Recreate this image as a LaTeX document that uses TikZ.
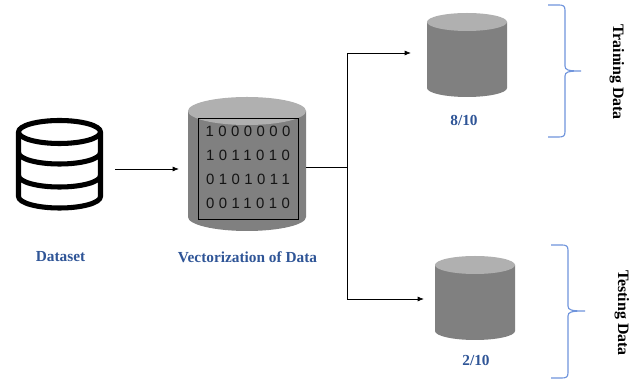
\documentclass[tikz,border=0pt]{standalone}
\usepackage{amsmath}
\usepackage{xcolor}
\usepackage{fontspec}
\setmainfont{Liberation Serif}
\newfontfamily\bitfont[LetterSpace=30]{Liberation Sans}
\usetikzlibrary{arrows.meta}
\definecolor{labelblue}{HTML}{2F5597}
\definecolor{braceblue}{HTML}{6F94DC}
\tikzset{
	iconline/.style={draw=black,line width=3.6pt,line join=round},
	bluelabel/.style={text=labelblue,font=\bfseries\fontsize{10.9}{12}\selectfont},
	sidelabel/.style={rotate=-90,font=\bfseries\fontsize{11.3}{13}\selectfont},
	bits/.style={font=\bitfont\fontsize{10.6}{12}\selectfont,text=black!92},
	link/.style={-{Latex[length=4.5pt,width=3.5pt]},line width=.5pt},
	bracket/.style={draw=braceblue,line width=.8pt}
}
% name, centre x, y of top ellipse, x radius, y radius, y of bottom ellipse
\newcommand{\drum}[6]{
	\fill[black!50] ({#2-#4},#3) -- ({#2-#4},#6) arc[start angle=180,end angle=0,x radius=#4,y radius=#5] -- ({#2+#4},#3) -- cycle;
	\fill[black!31] (#2,#3) ellipse[x radius=#4,y radius=#5];
	\path (#2,{(#3+#6)/2}) node[inner sep=0pt,outer sep=0pt,minimum width={#4*.05cm},minimum height={(#6-#3+2*#5)*.025cm}] (#1) {};
}
\begin{document}
\begin{tikzpicture}[x=.025cm,y=-.025cm]
			\useasboundingbox (0,0) rectangle (639,379);
			
			% dataset icon
			\draw[iconline] (59.5,132) ellipse[x radius=41,y radius=11.5];
			\draw[iconline] (18.5,132) -- (18.5,196.5) arc[start angle=180,end angle=0,x radius=41,y radius=11.5] -- (100.5,132);
			\draw[iconline] (18.5,152.5) arc[start angle=180,end angle=0,x radius=41,y radius=11.5];
			\draw[iconline] (18.5,175.5) arc[start angle=180,end angle=0,x radius=41,y radius=11.5];
			
			% the three drums
			\drum{vector}{247}{111}{59}{14}{217}
			\drum{train}{467}{22}{40}{9}{88}
			\drum{test}{475}{265}{40}{9}{331}
			
			\draw (248,168.5) node[draw=black,line width=.4pt,minimum width=70.9pt,minimum height=71.6pt,inner sep=0pt] (matrix) {};
			\draw (248,131) node[bits] (rowa) {1000000};
			\draw (248,155) node[bits] (rowb) {1011010};
			\draw (248,179) node[bits] (rowc) {0101011};
			\draw (248,203) node[bits] (rowd) {0011010};
			
			\draw (60.5,257) node[bluelabel] (datasetlabel) {Dataset};
			\draw (247.5,257) node[bluelabel] (vectorlabel) {Vectorization of Data};
			\draw (464,120) node[bluelabel] (trainlabel) {8/10};
			\draw (476,360) node[bluelabel] (testlabel) {2/10};
			
			\draw (617,72) node[sidelabel] (trainside) {Training Data};
			\draw (622,313) node[sidelabel] (testside) {Testing Data};
			
			% connectors
			\coordinate (gapa) at (115,169);
			\coordinate (gapb) at (179,169);
			\coordinate (branch) at (347,167);
			\coordinate (traintip) at (411,53);
			\coordinate (testtip) at (424,299);
			\draw[link] (gapa) -- (gapb);
			\draw[line width=.5pt] (vector.east |- branch) -- (branch);
			\draw[link] (branch) |- (traintip);
			\draw[link] (branch) |- (testtip);
			
			% braces
			\draw[bracket] (548,5) -- (559,5) .. controls (563,5) and (565,6) .. (565,10) -- (565,66) .. controls (565,70) and (568,71) .. (581,71) .. controls (568,71) and (565,72) .. (565,76) -- (565,132) .. controls (565,136) and (563,137) .. (559,137) -- (548,137);
			\draw[bracket] (551,245) -- (562,245) .. controls (566,245) and (568,246) .. (568,250) -- (568,306) .. controls (568,310) and (571,311) .. (585,311) .. controls (571,311) and (568,312) .. (568,316) -- (568,373) .. controls (568,377) and (566,378) .. (562,378) -- (551,378);
		\end{tikzpicture}
\end{document}
